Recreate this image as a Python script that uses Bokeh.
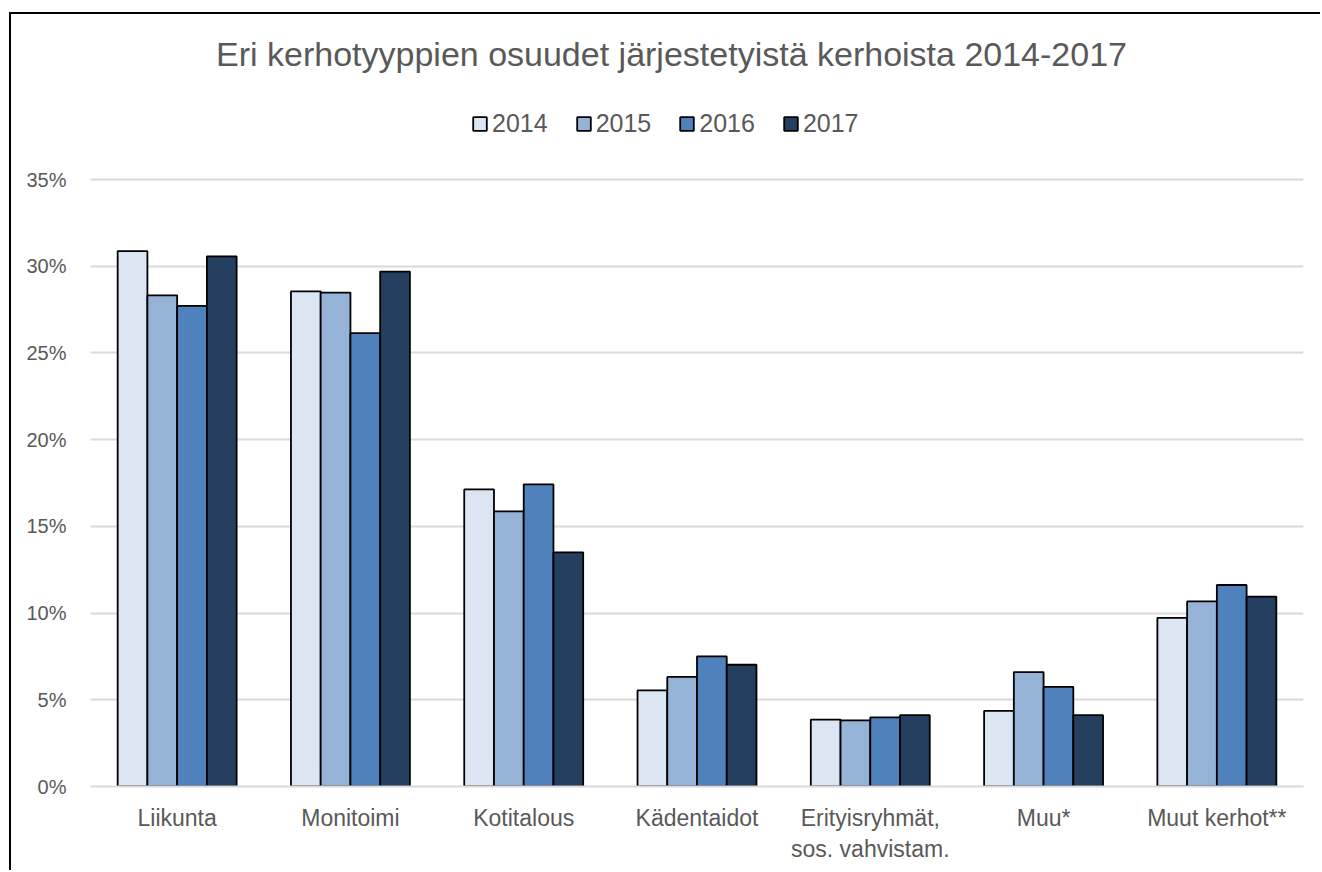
from bokeh.plotting import figure
from bokeh.models import (FactorRange, Range1d, Legend, LegendItem, Label, PrintfTickFormatter,
                          FixedTicker, ColumnDataSource)
from bokeh.transform import dodge
from bokeh.embed import file_html
from bokeh.resources import INLINE

categories = ["Liikunta", "Monitoimi", "Kotitalous", "Kädentaidot",
              "Erityisryhmät,\nsos. vahvistam.", "Muu*", "Muut kerhot**"]
years = ["2014", "2015", "2016", "2017"]
v2014 = [30.87, 28.55, 17.13, 5.54, 3.86, 4.36, 9.72]
v2015 = [28.32, 28.48, 15.86, 6.32, 3.81, 6.60, 10.67]
v2016 = [27.71, 26.14, 17.42, 7.50, 3.99, 5.75, 11.62]
v2017 = [30.57, 29.69, 13.50, 7.02, 4.11, 4.11, 10.95]
colors = ["#DCE6F2", "#95B3D7", "#4F81BD", "#243F60"]
y_ticks = [0, 5, 10, 15, 20, 25, 30, 35]
title_text = "Eri kerhotyyppien osuudet järjestetyistä kerhoista 2014-2017"

FONT = "Liberation Sans"
TXT = "#595959"

src = ColumnDataSource(data=dict(cat=categories, v2014=v2014, v2015=v2015,
                                 v2016=v2016, v2017=v2017))

W, H = 1311, 858
BOTTOM = 86                 # space below the 0% line
AXIS_TOP_PX = 607           # pixels from 0% to 35%
frame_h = H - BOTTOM
y_end = 35 * frame_h / AXIS_TOP_PX

p = figure(x_range=FactorRange(factors=categories, range_padding=0),
           y_range=Range1d(0, y_end), width=W, height=H,
           output_backend="svg", toolbar_location=None,
           min_border_left=79, min_border_right=19, min_border_top=0,
           min_border_bottom=BOTTOM)
p.title.visible = False
p.styles = {"margin-top": "12px", "margin-left": "9px",
            "border-left": "2px solid #000", "border-top": "2px solid #000"}
p.outline_line_color = None
p.background_fill_color = "white"
p.border_fill_color = "white"

bw = 0.1716
offsets = [-1.5 * bw, -0.5 * bw, 0.5 * bw, 1.5 * bw]
renderers = []
for yr, off, col in zip(years, offsets, colors):
    r = p.vbar(x=dodge("cat", off, range=p.x_range), top="v" + yr, width=bw,
               source=src, fill_color=col, line_color="#000000", line_width=1.8)
    renderers.append(r)

p.yaxis.ticker = FixedTicker(ticks=y_ticks)
p.yaxis.formatter = PrintfTickFormatter(format="%d%%")
p.yaxis.axis_line_color = None
p.yaxis.major_tick_line_color = None
p.yaxis.minor_tick_line_color = None
p.yaxis.major_label_standoff = 18
p.yaxis.major_label_text_font = FONT
p.yaxis.major_label_text_font_size = "20px"
p.yaxis.major_label_text_color = TXT

p.xaxis.axis_line_color = "#D9D9D9"
p.xaxis.axis_line_width = 2
p.xaxis.major_tick_line_color = None
p.xaxis.minor_tick_line_color = None
p.xaxis.major_label_standoff = 12
p.xaxis.major_label_text_font = FONT
p.xaxis.major_label_text_font_size = "23px"
p.xaxis.major_label_text_color = TXT
p.xaxis.major_label_text_line_height = 1.2

p.xgrid.grid_line_color = None
p.ygrid.grid_line_color = "#D9D9D9"
p.ygrid.grid_line_width = 2

legend = Legend(items=[LegendItem(label=yr, renderers=[r]) for yr, r in zip(years, renderers)],
                orientation="horizontal", location=(381, 648),
                glyph_width=17, glyph_height=17, label_standoff=4, spacing=27,
                padding=0, margin=0, border_line_color=None,
                background_fill_alpha=0,
                label_text_font=FONT, label_text_font_size="25px",
                label_text_color=TXT)
p.add_layout(legend, "center")

p.add_layout(Label(x=581, y=733, x_units="screen", y_units="screen", text=title_text,
                   text_align="center", text_baseline="middle",
                   text_font=FONT, text_font_size="34px", text_color=TXT))

open("out.html", "w").write(file_html(p, INLINE))
